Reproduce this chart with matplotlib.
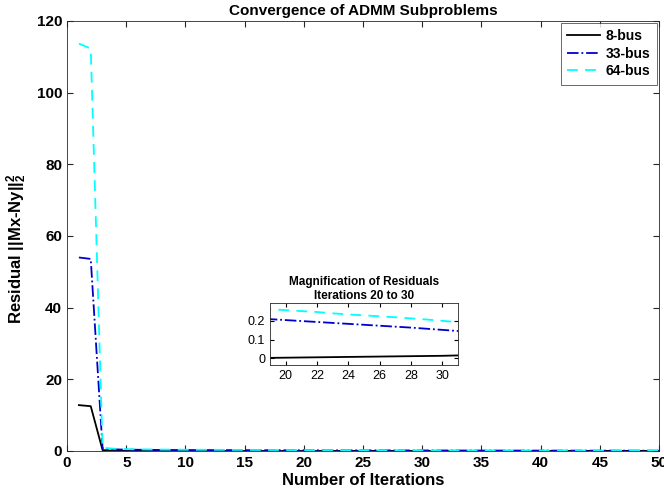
import numpy as np
import matplotlib
matplotlib.use('Agg')
import matplotlib.pyplot as plt

plt.rcParams['font.family'] = ['Liberation Sans', 'DejaVu Sans']
plt.rcParams['mathtext.fontset'] = 'custom'
plt.rcParams['mathtext.rm'] = 'Liberation Sans:bold'
plt.rcParams['mathtext.bf'] = 'Liberation Sans:bold'
plt.rcParams['mathtext.default'] = 'bf'

iters = list(range(1, 51))

res_8bus = [12.8, 12.5, 0.25, 0.06, 0.03, 0.015, 0.009, 0.006, 0.004, 0.003,
            0.003, 0.003, 0.003, 0.003, 0.003, 0.003, 0.003, 0.003, 0.003, 0.004,
            0.005, 0.006, 0.007, 0.008, 0.009, 0.010, 0.011, 0.012, 0.013, 0.014,
            0.016, 0.017, 0.018, 0.019, 0.020, 0.021, 0.022, 0.023, 0.024, 0.025,
            0.025, 0.026, 0.027, 0.027, 0.028, 0.028, 0.029, 0.029, 0.030, 0.030]

res_33bus = [54.0, 53.6, 0.70, 0.45, 0.38, 0.34, 0.31, 0.29, 0.28, 0.27,
             0.262, 0.255, 0.248, 0.242, 0.236, 0.229, 0.222, 0.215, 0.209, 0.204,
             0.199, 0.194, 0.189, 0.184, 0.179, 0.174, 0.169, 0.164, 0.158, 0.152,
             0.146, 0.141, 0.137, 0.133, 0.129, 0.125, 0.121, 0.118, 0.115, 0.112,
             0.109, 0.106, 0.104, 0.101, 0.099, 0.097, 0.095, 0.093, 0.091, 0.090]

res_64bus = [113.7, 112.3, 0.90, 0.62, 0.52, 0.46, 0.42, 0.39, 0.37, 0.35,
             0.34, 0.33, 0.32, 0.31, 0.30, 0.292, 0.283, 0.273, 0.262, 0.257,
             0.252, 0.247, 0.240, 0.234, 0.229, 0.224, 0.219, 0.213, 0.207, 0.200,
             0.193, 0.188, 0.183, 0.178, 0.174, 0.170, 0.166, 0.162, 0.158, 0.155,
             0.152, 0.149, 0.146, 0.143, 0.141, 0.139, 0.137, 0.135, 0.133, 0.131]

labels = ['8-bus', '33-bus', '64-bus']

edge = (0.15, 0.15, 0.15)

fig = plt.figure(figsize=(6.64, 4.95), dpi=100)
ax = fig.add_axes([0.101, 0.0889, 0.8915, 0.8687])

ax.plot(iters, res_8bus, color='black', lw=1.3, ls='-', label=labels[0])
ax.plot(iters, res_33bus, color=(0, 0, 0.8), lw=1.3, ls='-.', label=labels[1])
ax.plot(iters, res_64bus, color='cyan', lw=1.3, ls=(0, (6, 4)), label=labels[2])

ax.set_xlim(0, 50)
ax.set_ylim(0, 120)
ax.set_xticks(range(0, 51, 5))
ax.set_yticks(range(0, 121, 20))
ax.tick_params(direction='in', top=True, right=True, labelsize=11, colors=edge,
               length=4)
for t in ax.get_xticklabels() + ax.get_yticklabels():
    t.set_fontweight('bold')
    t.set_color('black')
for s in ax.spines.values():
    s.set_color(edge)
    s.set_linewidth(0.6)

ax.set_title('Convergence of ADMM Subproblems', fontsize=11, fontweight='bold', pad=4)
ax.set_xlabel('Number of Iterations', fontsize=12, fontweight='bold', labelpad=2)
ax.set_ylabel('Residual ||Mx-Ny||$_2^2$', fontsize=12,
              fontweight='bold', labelpad=2)
ax.yaxis.set_label_coords(-0.064, 0.47)

leg = ax.legend(loc='upper right', fontsize=10, frameon=True, fancybox=False,
                borderaxespad=0.15, handlelength=2.4, handletextpad=0.4,
                borderpad=0.45, labelspacing=0.25, alignment='left')
leg.get_frame().set_edgecolor(edge)
leg.get_frame().set_linewidth(0.6)
for t in leg.get_texts():
    t.set_fontweight('bold')

# zoomed-in view of iterations 19..31
axins = fig.add_axes([0.4066, 0.2626, 0.2831, 0.1253])
axins.plot(iters, res_8bus, color='black', lw=1.3, ls='-')
axins.plot(iters, res_33bus, color=(0, 0, 0.8), lw=1.3, ls='-.')
axins.plot(iters, res_64bus, color='cyan', lw=1.3, ls=(0, (6, 4)))
axins.set_xlim(19, 31)
axins.set_ylim(-0.035, 0.295)
axins.set_xticks(range(20, 31, 2))
axins.set_yticks([0, 0.1, 0.2])
axins.set_yticklabels(['0', '0.1', '0.2'])
axins.tick_params(direction='in', top=True, right=True, labelsize=9, length=3)
for s in axins.spines.values():
    s.set_color(edge)
    s.set_linewidth(0.6)
axins.set_title('Magnification of Residuals\nIterations 20 to 30', fontsize=8.5,
                fontweight='bold', pad=3, linespacing=1.15)

fig.savefig('out.png', dpi=100)
